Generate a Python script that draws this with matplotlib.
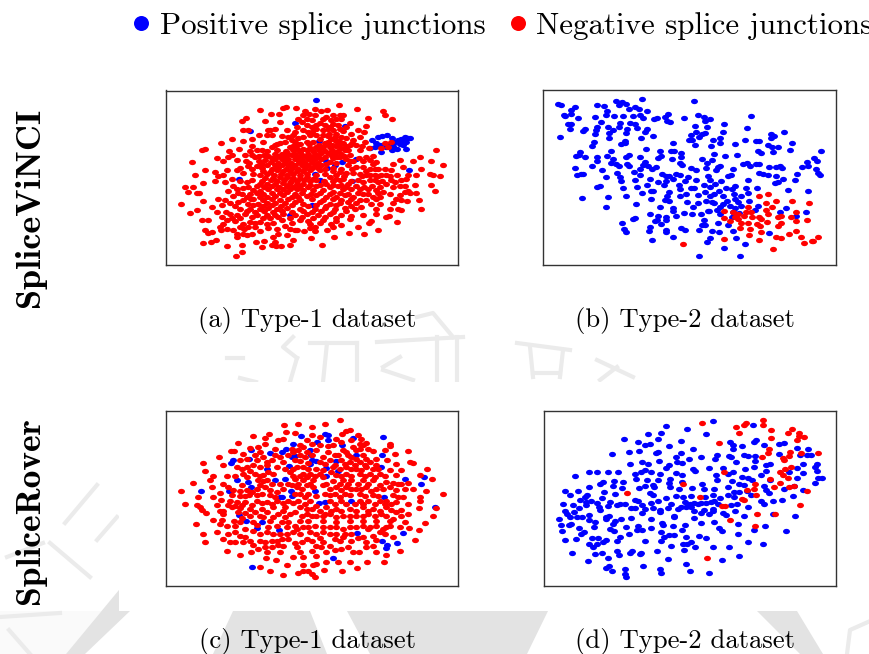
import matplotlib
matplotlib.use("Agg")
import matplotlib.pyplot as plt
from matplotlib.lines import Line2D
from matplotlib.patches import Polygon, Rectangle
from matplotlib.path import Path
from matplotlib.transforms import Affine2D

# Embedding coordinates (arbitrary t-SNE-like units, y grows downward)
a_pos = [(470,43),(405,114),(270,138),(556,122),(478,168),(237,281),(747,254),(576,288),(482,285),(467,265),(502,248),(527,240),(548,229),(590,220),(500,228),(455,360),(390,388),(637,165),(655,155),(668,152),(682,148),(650,172),(645,185),(660,180),(630,188),(665,200),(697,158),(697,195),(712,190),(720,175),(705,170),(725,160),(735,155),(745,158),(752,158),(740,170),(730,178),(740,192),(715,165),(728,168),(678,185),(690,175),(700,182)]
a_neg = [(675,172),(665,188),(685,185),(695,170),(628,187),
(537,60),(378,66),(370,69),(408,68),(300,75),(591,71),(465,72),(434,77),(485,77),(503,75),(670,78),(677,90),(356,85),(332,87),(430,90),(448,85),(465,88),(520,88),(540,90),(551,88),(698,100),(626,97),
(258,97),(246,106),(315,106),(360,110),(415,100),(440,100),(455,105),(490,100),(500,95),(515,103),(530,100),(545,100),(570,112),(480,112),(440,118),(425,110),(410,125),(455,125),(520,115),(535,120),(620,122),(595,135),(495,118),(505,130),(470,130),(380,135),(323,134),(250,133),(265,133),(330,135),(345,132),(320,148),(335,148),(297,149),(430,135),(445,140),(575,145),(612,140),(550,138),(520,135),(530,145),
(216,162),(249,167),(275,160),(182,172),(365,152),(385,155),(400,150),(415,158),(430,155),(450,150),(470,150),(490,150),(505,152),(525,155),(545,155),(560,158),(580,165),(600,155),(615,170),(375,170),(360,172),(345,180),(335,185),(310,170),(275,183),(405,170),(420,175),(440,170),(460,170),(505,170),(530,168),(550,172),(570,180),(590,180),(608,183),(135,192),(127,193),(238,190),(208,198),(270,197),(290,195),(305,195),(390,185),(410,190),(430,190),(450,188),(470,185),(490,185),(510,185),(528,183),(545,188),(565,195),(600,195),(830,195),
(215,208),(205,215),(255,210),(275,210),(297,213),(325,212),(345,205),(365,205),(385,205),(405,205),(425,208),(445,205),(465,205),(485,203),(505,203),(525,203),(545,205),(570,210),(620,215),(640,213),(782,214),(172,217),(188,228),(97,229),(230,225),(258,228),(298,228),(315,225),(345,222),(365,220),(385,220),(405,222),(425,225),(445,220),(465,222),(485,220),(520,218),(540,215),(560,222),(580,228),(610,228),(630,225),(650,230),(720,225),(760,228),(813,226),(850,238),(700,237),
(135,253),(165,260),(105,270),(190,268),(200,255),(230,255),(265,243),(290,243),(320,240),(345,240),(365,238),(385,240),(405,238),(425,240),(445,240),(465,240),(485,238),(565,240),(590,245),(610,245),(630,250),(655,250),(675,252),(695,255),(730,245),(785,250),(250,262),(280,265),(310,258),(330,260),(350,255),(370,258),(390,258),(410,258),(430,258),(450,255),(480,255),(520,258),(540,260),(560,262),(580,262),(600,265),(620,268),(645,268),(665,270),(690,272),(712,268),(745,268),(770,270),(810,265),(820,270),(840,272),(175,272),(215,280),(315,278),(340,278),(360,275),(380,275),(400,278),(420,278),(440,275),(460,282),(510,275),(530,280),(550,280),
(130,294),(165,288),(195,290),(75,306),(100,305),(85,320),(110,322),(118,322),(260,290),(300,295),(320,295),(345,295),(370,292),(390,292),(410,295),(430,295),(450,298),(480,300),(500,295),(520,298),(545,298),(565,295),(595,285),(610,290),(630,285),(655,290),(680,295),(705,290),(725,285),(765,298),(740,280),(815,298),(205,318),(230,310),(250,308),(280,315),(300,318),(325,312),(350,312),(370,310),(390,310),(410,312),(430,315),(460,315),(490,315),(520,320),(550,312),(575,312),(600,312),(625,310),(650,315),(670,320),(700,305),(720,302),(745,318),(770,322),(827,316),
(218,332),(175,340),(128,347),(63,355),(155,365),(185,358),(245,325),(260,335),(280,340),(300,335),(320,335),(345,332),(370,330),(395,335),(415,335),(440,332),(470,330),(500,335),(530,335),(555,330),(580,335),(610,325),(640,335),(660,335),(720,328),(735,320),(710,340),(700,352),(743,348),(777,345),(210,352),(235,350),(265,355),(295,355),(320,352),(345,352),(375,352),(405,350),(430,355),(480,350),(510,355),(540,352),(565,350),(590,352),(620,345),(635,355),(660,355),
(112,373),(90,382),(170,380),(210,385),(185,395),(240,370),(270,372),(300,372),(325,368),(350,370),(380,368),(420,370),(465,370),(495,368),(525,370),(555,368),(585,370),(650,370),(690,372),(715,370),(725,373),(785,370),(230,390),(255,385),(290,390),(320,388),(345,388),(370,385),(405,390),(440,385),(475,388),(510,385),(545,388),(575,392),(610,388),(650,385),(688,392),(680,395),
(125,405),(143,403),(200,405),(225,408),(270,410),(300,410),(340,412),(365,405),(420,405),(445,408),(490,405),(530,408),(570,400),(635,408),(628,412),(712,410),(180,425),(135,435),(240,425),(265,425),(285,425),(350,430),(375,422),(410,435),(465,425),(520,425),(545,420),(595,425),(182,435),(220,435),(300,438),(355,445),(405,435),(432,438),(465,438),(502,435),(655,434),(612,445),(567,442),
(145,442),(157,440),(230,445),(250,445),(275,445),(340,455),(380,450),(454,457),(523,455),(168,463),(153,470),(128,474),(230,455),(260,450),(288,470),(312,467),(345,470),(398,463),(390,478),(362,482),(335,480),(348,482),(305,485),(247,480),(200,483),(487,478),(245,500),(228,512)]
a_neg_dense = [(470,118),(510,125),(490,135),(455,141),(508,146),(541,131),(560,125),(405,140),(395,165),(481,161),(515,160),(538,166),(495,173),
(352,176),(398,181),(412,178),(448,175),(478,179),(498,176),(518,178),(537,175),(558,181),(578,174),
(320,198),(350,193),(378,197),(400,193),(420,199),(440,194),(460,197),(478,193),(497,198),(518,194),(535,197),(555,193),
(285,214),(312,210),(335,217),(357,212),(376,215),(395,210),(415,216),(436,212),(455,214),(474,211),(495,216),(514,210),(533,214),(552,211),(598,218),
(268,233),(305,236),(332,229),(354,232),(375,229),(394,234),(416,230),(436,233),(455,229),(475,232),(498,236),(510,229),(530,233),(570,226),(640,235),
(240,248),(275,252),(305,247),(335,250),(355,247),(378,251),(395,247),(415,250),(435,247),(455,248),(475,247),(497,250),(520,247),(545,250),(578,252),(620,256),(645,252),
(300,270),(322,267),(342,269),(362,266),(380,269),(400,266),(420,269),(440,265),(468,268),(495,266),(530,269),(552,271),(608,272),(632,268),(655,272),(680,268),
(240,286),(275,283),(305,288),(332,285),(352,288),(372,283),(392,286),(412,288),(432,284),(450,287),(470,283),(492,286),(520,288),(540,284),(575,286),(645,283),(668,287),(693,284),
(220,303),(265,305),(290,301),(312,305),(335,302),(358,304),(380,301),(400,305),(420,302),(445,305),(470,301),(510,305),(535,302),(560,305),(588,301),(612,306),(637,302),(662,305),(735,303),
(235,323),(270,326),(292,322),(310,325),(335,322),(360,324),(382,321),(405,325),(425,322),(452,326),(480,322),(510,325),(540,322),(565,326),(595,322),(625,325),(655,322),(690,325),(752,322),
(195,343),(250,345),(272,341),(310,344),(335,342),(360,345),(385,341),(420,344),(455,341),(490,344),(520,342),(545,344),(575,341),(600,344),(650,342),(725,345),
(225,362),(280,360),(310,363),(335,360),(362,362),(395,359),(445,362),(470,360),(500,362),(530,360),(575,361),(605,364),
(198,380),(262,378),(285,381),(312,378),(338,380),(365,377),(395,380),(430,378),(455,380),(485,377),(520,380),(560,378),
(215,397),(240,399),(275,396),(310,399),(330,397),(355,395),(390,398),(425,396),(460,399),(495,396),(530,398),
(190,415),(250,417),(285,413),(320,416),(395,414),(450,417),(480,413),(515,416),(200,430),(252,432),(325,428),(390,431),(450,429)]

b_pos = [(60,57),(70,60),(112,65),(100,75),(100,85),(78,88),(82,92),(120,98),(98,115),(90,116),(96,131),(66,155),(176,58),(198,61),(235,47),(252,50),(265,56),(242,60),(312,41),(292,64),(302,71),(273,70),(327,77),(208,78),(205,88),(170,95),(228,93),(254,93),(285,92),(305,88),(315,98),(348,102),(357,98),(390,85),(380,94),(386,106),(395,110),(439,97),(468,46),(480,90),(498,96),(515,102),(500,108),(638,91),(558,116),(471,121),(506,125),(627,127),(190,109),(247,114),(275,113),(291,115),(298,127),(210,125),(242,126),(178,124),(175,133),(140,132),(136,137),(170,145),(225,135),(213,142),(268,130),(265,142),(328,130),(320,140),(345,152),(212,157),(308,158),(260,165),(250,176),(262,172),(168,170),(162,181),(457,148),(473,140),(490,145),(482,153),(500,142),(555,141),(452,163),(461,163),(471,178),(524,162),(546,158),(546,172),(519,180),(591,174),(621,162),(653,165),(662,167),(698,146),(708,150),(698,158),(738,140),(761,173),(690,178),(700,185),(718,185),(704,198),(755,193),(849,197),
(406,172),(323,190),(218,197),(208,210),(126,200),(114,210),(124,207),(141,214),(177,215),(177,227),(162,242),(112,246),(192,254),(225,220),(220,232),(233,235),(243,240),(272,208),(265,215),(306,215),(268,235),(274,240),(320,228),(315,237),(330,242),(342,250),(355,243),(305,250),(365,195),(370,210),(360,218),(400,195),(408,195),(402,220),(430,202),(430,213),(425,232),(432,238),(491,220),(527,205),(522,223),(507,233),(561,210),(597,207),(660,197),(667,203),(614,235),(627,232),(636,240),(653,235),(662,234),(692,244),(712,244),(726,240),(732,248),(792,244),(806,230),(808,242),(827,218),(836,226),(833,250),(840,262),(844,268),(775,266),(769,284),(546,240),(538,245),(533,254),(504,248),(459,248),(473,254),(584,250),(578,268),(570,272),(662,261),(675,265),(688,269),(712,271),(735,281),(718,288),(710,293),(748,313),(810,317),(630,283),
(117,268),(128,266),(136,264),(205,275),(236,262),(245,275),(249,286),(289,259),(307,269),(290,284),(336,281),(360,288),(373,265),(385,270),(405,280),(392,272),(415,266),(427,268),(440,287),(383,286),(378,298),(450,274),(473,282),(508,270),(516,284),(498,298),(515,303),(530,294),(548,286),(186,300),(178,304),(254,306),(296,303),(326,298),(312,323),(345,315),(338,316),(263,331),(211,333),(133,337),(338,340),(392,320),(388,330),(382,342),(392,347),(424,298),(425,310),(425,332),(445,324),(447,349),(458,308),(467,308),(478,328),(500,320),(514,332),(502,346),(478,353),(464,364),(528,325),(542,315),(527,352),(562,308),(580,310),(590,300),(553,330),(587,325),(608,331),(622,308),(656,306),(630,323),(631,345),(600,348),(590,340),(565,345),(553,355),(545,365),(575,362),(608,362),(660,360),(742,366),(205,365),(295,355),(366,365),(404,366),(404,377),(336,384),(361,391),(437,383),(461,385),(489,384),(511,377),(537,373),(545,386),(584,380),(603,383),(650,373),(725,380),(803,380),(774,390),(286,400),(292,396),(253,411),(258,430),(265,438),(350,405),(358,402),(385,395),(385,403),(368,415),(413,392),(497,402),(500,417),(492,418),(538,411),(570,418),(337,422),(333,435),(384,433),(384,438),(429,426),(440,432),(483,431),(520,435),(541,437),(584,436),(692,442),(405,453),(341,462),(515,455),(507,467),(593,455),(620,475),(558,487),(483,509),(604,510),(580,395),(590,368),(520,348),(510,375)]
b_neg = [(661,332),(690,325),(682,352),(712,347),(760,346),(813,352),(558,375),(585,378),(630,365),(622,378),(637,380),(683,372),(702,365),(690,386),(718,393),(728,392),(772,380),(758,395),(772,405),(806,402),(558,398),(575,405),(590,395),(600,400),(608,412),(618,392),(642,395),(663,393),(668,400),(685,408),(630,411),(655,413),(665,420),(728,412),(720,420),(606,427),(635,430),(668,438),(632,446),(752,445),(772,434),(787,452),(714,454),(728,456),(556,460),(662,461),(840,453),(820,464),(825,465),(798,472),(703,488),(435,475),(598,385)]

c_pos = [(669,96),(422,91),(495,85),(505,88),(580,98),(472,110),(400,115),(505,103),(548,120),(668,148),(274,134),(330,142),(367,140),(378,132),(405,152),(395,155),(450,135),(452,148),(590,150),(220,165),(212,172),(267,161),(455,163),(470,168),(450,177),(388,182),(320,190),(500,187),(535,197),(665,186),(500,211),(375,220),(736,220),(793,214),(230,225),(265,230),(273,244),(785,236),(122,256),(207,256),(392,258),(395,272),(365,275),(360,275),(467,258),(673,275),(478,292),(497,288),(575,285),(826,304),(238,329),(258,345),(305,350),(292,368),(358,372),(593,381),(729,382),(668,406),(712,411),(683,418),(680,428),(521,457),(277,485),(345,225),(528,168)]
c_neg = [(542,44),(415,55),(496,55),(371,60),(458,64),(378,81),(405,84),(572,75),(560,76),(546,85),(279,93),(327,86),(314,98),(458,88),(354,105),(370,101),(234,112),(440,105),(480,95),(595,88),(605,100),(530,100),(600,115),(620,112),(690,115),(690,122),(420,118),(455,115),(480,120),(520,120),(270,127),(295,125),(316,117),(212,136),(222,137),(300,140),(345,132),(395,130),(415,135),(470,135),(505,140),(550,135),(580,125),(600,130),(625,130),(640,138),(675,135),(745,138),(705,146),(177,155),(250,145),(285,150),(310,155),(360,155),(385,150),(420,150),(435,155),(490,155),(525,150),(565,150),(610,150),(650,160),(130,172),(190,178),(240,165),(290,165),(335,165),(370,170),(420,168),(480,170),(510,165),(545,165),(570,170),(600,170),(630,170),(682,165),(710,175),(750,170),(760,172),(135,196),(230,185),(260,185),(300,185),(350,185),(410,185),(430,185),(470,190),(520,185),(560,185),(590,190),(620,185),(640,190),(725,195),(802,190),(160,213),(200,211),(250,205),(285,205),(310,210),(340,205),(390,200),(430,205),(450,205),(480,205),(530,210),(560,205),(600,205),(630,205),(660,205),(690,195),(710,210),(780,210),(817,222),(150,225),(99,234),(190,235),(245,240),(295,225),(320,225),(360,235),(405,220),(430,225),(460,225),(520,228),(550,225),(575,225),(610,225),(640,225),(680,230),(715,237),(725,235),(760,250),(800,257),(155,245),(63,258),(160,275),(115,275),(182,283),(218,255),(260,255),(290,250),(315,245),(350,260),(410,245),(440,240),(490,240),(530,245),(560,245),(590,250),(620,245),(650,250),(690,245),(745,232),(851,267),(240,273),(268,270),(305,265),(330,270),(420,265),(445,265),(495,265),(525,265),(555,265),(600,265),(640,270),(700,270),(730,275),(782,275),(780,287),(76,294),(110,298),(120,303),(170,298),(210,285),(230,290),(255,290),(290,285),(320,290),(350,285),(385,285),(415,285),(450,285),(510,285),(545,285),(600,285),(625,285),(660,285),(695,295),(745,295),(777,306),(830,306),(137,322),(125,312),(180,316),(188,315),(215,305),(240,308),(270,310),(305,310),(340,305),(375,305),(420,305),(455,310),(500,305),(530,310),(570,310),(610,305),(640,310),(680,305),(710,320),(745,325),(820,330),(160,342),(185,342),(222,347),(270,330),(300,330),(355,325),(390,325),(440,325),(470,330),(510,325),(550,330),(590,330),(625,325),(665,325),(700,340),(108,356),(180,355),(240,350),(280,350),(330,345),(365,350),(420,345),(490,345),(530,350),(570,345),(610,345),(650,345),(690,345),(735,348),(795,351),(172,380),(225,378),(255,370),(325,365),(385,350),(430,365),(465,360),(510,365),(550,370),(590,365),(630,365),(670,370),(748,366),(778,372),(130,386),(190,400),(255,395),(300,385),(340,385),(380,385),(420,385),(470,385),(510,385),(575,385),(610,395),(640,390),(675,385),(700,395),(136,410),(210,410),(225,410),(270,405),(300,405),(350,405),(385,400),(440,400),(490,410),(540,405),(575,405),(765,404),(315,425),(370,420),(425,410),(470,420),(510,420),(545,430),(640,420),(720,435),(200,435),(240,447),(272,438),(320,440),(360,440),(420,440),(455,435),(500,438),(580,440),(598,440),(650,439),(680,449),(317,458),(348,462),(398,455),(430,455),(535,470),(570,470),(622,468),(672,468),(300,484),(380,478),(460,478),(593,487),(330,495),(430,495),(445,495),(494,494),(546,497),(368,507),(415,503),(455,505),(466,514),(250,410),(410,370),(495,325),(445,345),(470,450)]
c_neg_dense = [(545,110),(575,105),(590,135),(610,120),(560,140),(430,125),(505,122),(400,140),(440,140),(535,150),(590,160),(575,155),(620,160),(455,150),(405,165),(345,150),(320,170),(260,160),(445,172),(495,175),(525,178),(555,175),(585,178),(615,178),(650,178),
(280,178),(320,180),(375,190),(398,190),(445,192),(490,195),(540,190),(575,192),(605,195),(655,190),(245,190),(270,198),(325,200),(400,212),(420,212),(440,215),(465,212),(490,215),(515,200),(545,212),(575,212),(615,212),(645,214),(675,212),(300,212),(260,215),(225,212),(310,228),(335,235),(385,235),(415,235),(450,235),(500,235),(540,235),(565,237),(595,235),(625,235),(660,238),(700,232),(205,245),(240,258),(275,260),(300,240),(330,255),(370,250),(395,240),(425,250),(460,245),(510,250),(545,255),(575,252),(605,250),(635,258),(670,250),(710,255),(735,250),(180,262),(215,270),(255,272),(290,268),(345,275),(405,265),(435,275),(470,272),(510,270),(540,275),(570,270),(615,272),(655,272),(680,285),(715,275),(205,298),(225,300),(245,298),(275,298),(305,292),(335,295),(370,293),(400,293),(435,295),(470,300),(525,295),(560,295),(585,295),(610,295),(645,295),(675,295),(710,290),(190,325),(235,320),(255,322),(285,320),(320,318),(370,315),(405,318),(440,310),(480,315),(515,315),(545,315),(590,315),(625,315),(660,315),(695,312),(725,312),(245,338),(310,335),(340,335),(375,335),(425,330),(455,330),(490,330),(530,335),(570,330),(610,330),(645,330),(680,330),(725,330),(200,360),(225,360),(290,358),(350,362),(380,365),(405,360),(445,365),(490,365),(530,365),(570,365),(610,360),(650,360),(690,360),(720,365),(205,385),(240,392),(280,375),(320,380),(360,385),(400,378),(450,378),(490,380),(530,385),(555,385),(595,398),(625,370),(660,380),(680,365),(280,418),(315,410),(335,405),(365,400),(405,412),(455,405),(480,398),(525,400),(550,395),(620,410),(650,402),(295,430),(335,425),(355,418),(410,425),(485,425),(525,432),(565,425),(620,425),(430,478),(500,470),(470,476)]

d_pos = [(527,48),(383,63),(446,72),(647,58),(368,83),(330,86),(505,87),(258,102),(360,101),(301,110),(335,115),(320,120),(428,106),(393,122),(578,109),(655,105),(650,110),(678,120),(725,115),(738,113),(586,120),(612,123),(585,130),(467,132),(302,137),(272,141),(222,146),(353,143),(361,140),(428,142),(491,154),(415,155),(452,161),(364,168),(277,176),(311,171),(330,177),(418,170),(432,173),(537,150),(532,160),(574,152),(580,155),(620,148),(632,152),(653,153),(653,168),(596,170),(723,145),(788,148),(812,130),(777,127),(808,150),(820,150),(839,175),(795,176),(686,178),(696,176),(650,185),(622,190),(557,187),(513,187),(467,192),(392,178),(385,187),(153,200),(177,199),(209,200),(240,201),(112,212),(291,206),(295,220),(310,200),(320,195),(340,199),(366,205),(413,203),(432,210),(472,198),(570,206),(585,200),(613,215),(632,218),(642,224),(535,210),(537,225),(670,208),(685,197),(778,188),(778,218),(795,203),(832,186),(838,198),(840,218),(853,219),(832,233),(753,200),(698,225),(328,224),(360,225),(396,222),(431,230),(227,227),(255,230),(196,229),(187,237),(226,243),(252,247),(154,244),(82,256),(120,257),(97,268),(198,261),(232,267),(304,249),(320,243),(349,245),(345,240),(392,232),(395,245),(423,250),(463,248),(493,236),(500,252),(530,252),(571,245),(605,235),(618,240),(582,227),(680,242),(685,255),(693,263),(738,250),(770,243),(797,253),(766,272),(734,283),(705,287),(680,296),(670,285),(628,257),(640,270),(590,260),(605,260),(570,270),(590,275),(526,270),(530,285),(548,278),(502,275),(461,272),(436,274),(414,272),(385,278),(346,268),(335,263),(292,282),(300,286),(148,270),(140,275),(125,282),(193,278),(160,285),(145,290),(178,293),(215,288),(75,295),(104,298),(145,297),(123,307),(182,305),(210,300),(236,297),(247,294),(260,294),(313,297),(338,291),(361,287),(398,294),(440,290),(455,296),(470,293),(480,295),(490,293),(505,292),(520,290),(540,295),(580,298),(598,296),(630,305),(82,316),(108,319),(88,324),(95,333),(186,314),(320,310),(345,306),(279,306),(290,306),(366,312),(366,320),(390,308),(420,310),(430,305),(445,305),(460,305),(470,315),(490,322),(500,312),(525,310),(515,325),(525,315),(555,323),(565,327),(593,316),(620,331),(705,326),(771,331),(133,335),(154,328),(118,335),(62,339),(205,333),(212,330),(152,344),(205,340),(250,340),(279,337),(312,323),(338,341),(407,330),(408,335),(470,338),(230,345),(170,350),(69,358),(100,354),(94,358),(168,364),(226,355),(263,364),(300,360),(372,352),(376,358),(406,362),(440,357),(491,352),(528,348),(601,355),(681,361),(122,368),(73,376),(138,378),(128,384),(215,370),(227,376),(296,372),(312,372),(338,368),(368,378),(431,373),(543,368),(552,375),(650,373),(744,376),(601,385),(274,386),(80,402),(113,400),(163,397),(180,396),(204,402),(245,395),(238,405),(196,410),(152,414),(176,414),(321,407),(378,395),(370,405),(393,388),(407,387),(445,394),(483,392),(504,397),(630,410),(460,410),(434,414),(446,416),(676,415),(165,425),(398,421),(473,424),(527,425),(575,424),(438,432),(238,436),(102,443),(170,445),(192,443),(244,448),(283,436),(275,443),(309,441),(305,446),(356,436),(603,450),(209,456),(150,465),(391,459),(554,464),(443,476),(315,482),(213,482),(205,487),(261,489),(365,490),(222,496),(457,496),(369,503),(513,502),(261,505),(263,515)]
d_neg = [(494,52),(676,45),(625,52),(620,58),(596,66),(677,60),(699,73),(603,83),(762,71),(752,84),(785,84),(785,92),(798,94),(700,98),(777,105),(543,112),(693,132),(690,142),(757,139),(790,142),(841,143),(674,154),(755,153),(737,157),(739,165),(760,185),(741,190),(728,200),(737,210),(752,218),(560,201),(698,222),(728,232),(710,244),(653,237),(650,250),(627,253),(755,245),(770,243),(807,257),(267,264),(435,236),(486,274),(655,269),(613,279),(619,284),(552,300),(561,301),(786,298),(659,326),(712,326),(578,343),(652,361),(507,458)]

panel_labels = ["(a) Type-1 dataset", "(b) Type-2 dataset", "(c) Type-1 dataset", "(d) Type-2 dataset"]
row_labels = ["SpliceViNCI", "SpliceRover"]
legend_labels = ["Positive splice junctions", "Negative splice junctions"]
panels = [(a_pos, a_neg + a_neg_dense), (b_pos, b_neg), (c_pos, c_neg + c_neg_dense), (d_pos, d_neg)]

W, H = 870, 654
BLUE, RED = "#0000ff", "#ff0000"
GREY, FAINT = "#e3e3e3", "#ebebeb"
frames = [(166, 90.5, 292, 175), (543, 90, 293, 175), (166, 411, 292, 175), (544, 411, 292, 175)]
limits = [(18, 895, 540, 16), (15, 893, 537, 14), (18, 895, 541, 17), (18, 895, 541, 17)]
dot = Path.unit_circle().transformed(Affine2D().scale(1.3, 1.0))

fig = plt.figure(figsize=(W / 100, H / 100), dpi=100, facecolor="white")
px = Affine2D().scale(1, -1).translate(0, H)  # page pixels, origin top-left

# Page watermark behind the chart
for poly in [[(119, 590), (119, 611), (130, 611), (85, 654), (66, 654)],
             [(233, 611), (310, 611), (327, 654), (213, 654)],
             [(347, 611), (548, 611), (527, 654), (370, 654)],
             [(757, 611), (797, 611), (823, 654), (800, 654)]]:
    fig.add_artist(Polygon(poly, closed=True, fc=GREY, ec="none", transform=px, zorder=-3))
fig.add_artist(Polygon([(0, 611), (119, 611), (119, 590), (66, 654), (0, 654)], closed=True,
                       fc="#fafafa", ec="none", transform=px, zorder=-4))
strokes = [[(297, 358), (290, 382)], [(227, 358), (243, 358)], [(240, 378), (256, 382)],
           [(293, 337), (283, 347), (297, 358)], [(310, 343), (357, 343)], [(327, 343), (323, 382)],
           [(357, 343), (357, 382)], [(377, 342), (463, 337)], [(437, 337), (437, 382)],
           [(457, 337), (457, 382)], [(383, 367), (400, 357)], [(383, 370), (413, 380)],
           [(417, 317), (433, 313), (453, 337)], [(517, 343), (570, 350)], [(530, 347), (533, 377)],
           [(563, 350), (560, 377)], [(533, 373), (560, 373)], [(597, 360), (633, 377)],
           [(600, 380), (617, 367)],
           [(97, 485), (65, 523)], [(117, 517), (97, 540)], [(50, 543), (90, 577)],
           [(43, 543), (7, 557)], [(0, 617), (60, 613)], [(9, 630), (30, 654)],
           [(847, 654), (850, 630), (868, 622)]]
for s in strokes:
    xs, ys = zip(*s)
    fig.add_artist(Line2D(xs, ys, color=FAINT, lw=3, transform=px, zorder=-2))
fig.add_artist(Rectangle((119, 382), W - 119, 229, fc="white", ec="none", transform=px, zorder=-1))

for (pos, neg), (l, t, w, h), (x0, x1, y0, y1), lab in zip(panels, frames, limits, panel_labels):
    ax = fig.add_axes([l / W, 1 - (t + h) / H, w / W, h / H])
    ax.scatter(*zip(*pos), s=25, marker=dot, color=BLUE, linewidths=0)
    ax.scatter(*zip(*neg), s=25, marker=dot, color=RED, linewidths=0)
    ax.set_xlim(x0, x1)
    ax.set_ylim(y0, y1)
    ax.set_xticks([])
    ax.set_yticks([])
    for s in ax.spines.values():
        s.set_linewidth(1.0)
        s.set_color("#333333")
    ax.set_xlabel(lab, fontsize=19.2, family="cmr10", va="center")
    ax.xaxis.set_label_coords(0.484, -0.315)

fig.text(30 / W, 1 - 207 / H, row_labels[0], rotation=90, ha="center", va="center", fontsize=26, family="cmb10")
fig.text(30 / W, 1 - 511 / H, row_labels[1], rotation=90, ha="center", va="center", fontsize=25.6, family="cmb10")

handles = [Line2D([], [], ls="", marker="o", ms=10.8, color=BLUE, mew=0),
           Line2D([], [], ls="", marker="o", ms=10.8, color=RED, mew=0)]
fig.legend(handles, legend_labels, ncol=2, frameon=False, loc="center",
           bbox_to_anchor=(499 / W, 1 - 26 / H), prop={"family": "cmr10", "size": 22.3},
           handletextpad=0.1, columnspacing=0.55, handlelength=1.0, borderpad=0, borderaxespad=0)
fig.savefig("out.png", dpi=100)
